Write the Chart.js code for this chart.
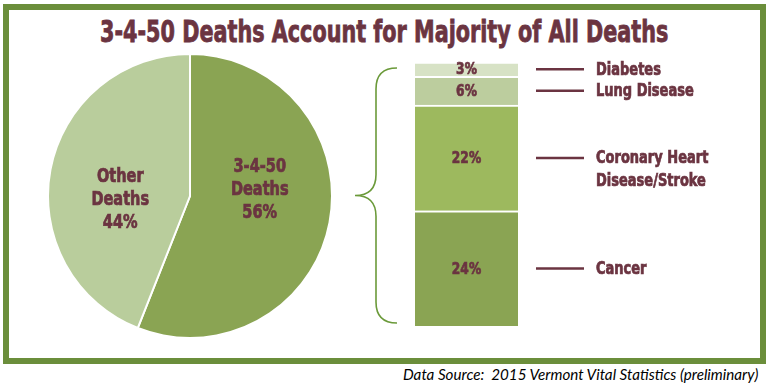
<!DOCTYPE html>
<html>
<head>
<meta charset="utf-8">
<script src="https://cdn.jsdelivr.net/npm/chart.js@4"></script>
<style>
body{margin:0;background:#fff;}
#wrap{position:relative;width:769px;height:385px;overflow:hidden;}
#frame{position:absolute;left:3px;top:4px;width:751px;height:348px;border:6px solid #6b8e3b;}
#title{position:absolute;left:100px;top:14px;white-space:nowrap;font:bold 30px 'Liberation Sans Narrow','DejaVu Sans Condensed',sans-serif;color:#6b3441;-webkit-text-stroke:0.8px #6b3441;transform-origin:0 0;}
#source{position:absolute;right:11px;top:365px;font:italic 15px Lato,'Open Sans',sans-serif;color:#000;white-space:pre;transform-origin:100% 0;}
#pieC{position:absolute;left:47px;top:53px;}
#barC{position:absolute;left:350px;top:55px;}
</style>
</head>
<body>
<div id="wrap">
  <div id="frame"></div>
  <div id="title">3-4-50 Deaths Account for Majority of All Deaths</div>
  <canvas id="pieC" width="286" height="286"></canvas>
  <canvas id="barC" width="415" height="280"></canvas>
  <div id="source">Data Source:  2015 Vermont Vital Statistics (preliminary)</div>
</div>
<script>
// pie: share of all deaths (clockwise from 12 o'clock)
let pieLabels=[['3-4-50','Deaths'],['Other','Deaths']]
let pieValues=[56,44]
let pieColors=['#8aa453','#b9cd9c']

// stacked bar: breakdown of the 3-4-50 deaths (bottom to top)
let causeLabels=[['Cancer'],['Coronary Heart','Disease/Stroke'],['Lung Disease'],['Diabetes']]
let causeValues=[24,22,6,3]
let causeColors=['#8aa453','#9db95e','#bccd9e','#d7e2c5']

let maroon='#6b3441'
let narrow="'Liberation Sans Narrow','DejaVu Sans Condensed',sans-serif"
let squeeze=0.85

// squeeze title and source to the widths they have in the picture
let t=document.getElementById('title')
t.style.transform='scaleX('+(568/t.offsetWidth)+')'
let s=document.getElementById('source')
s.style.transform='scaleX('+(355/s.offsetWidth)+')'

// condensed heavy text: draw with a horizontal squeeze around x
function narrowText(ctx,txt,x,y){
    ctx.save()
    ctx.translate(x,y)
    ctx.scale(squeeze,1)
    ctx.fillText(txt,0,0)
    ctx.strokeStyle=ctx.fillStyle
    ctx.lineWidth=0.7
    ctx.strokeText(txt,0,0)
    ctx.restore()
}

let pieText={
    id:'pieText',
    afterDatasetsDraw(chart){
        let ctx=chart.ctx
        let arcs=chart.getDatasetMeta(0).data
        ctx.save()
        ctx.fillStyle=maroon
        ctx.font='bold 19px '+narrow
        ctx.textAlign='center'
        ctx.textBaseline='middle'
        arcs.forEach(function(a,i){
            let mid=(a.startAngle+a.endAngle)/2
            let x=a.x+Math.cos(mid)*a.outerRadius*0.5
            let lines=pieLabels[i].concat([pieValues[i]+'%'])
            let y0=a.y-(lines.length-1)*23/2+(i==0?-6:4)
            lines.forEach(function(l,j){narrowText(ctx,l,x,y0+j*23)})
        })
        ctx.restore()
    }
}

new Chart(document.getElementById('pieC'),{
    type:'pie',
    data:{
        labels:pieLabels.map(function(l){return l.join(' ')}),
        datasets:[{data:pieValues,backgroundColor:pieColors,borderColor:'#fff',borderWidth:2,hoverOffset:0}]
    },
    options:{
        responsive:false,
        animation:false,
        rotation:0,
        plugins:{legend:{display:false},tooltip:{enabled:false}}
    },
    plugins:[pieText]
})

let barText={
    id:'barText',
    afterDatasetsDraw(chart){
        let ctx=chart.ctx
        let area=chart.chartArea
        ctx.save()
        ctx.textBaseline='middle'
        chart.data.datasets.forEach(function(ds,i){
            let bar=chart.getDatasetMeta(i).data[0]
            let mid=(bar.y+bar.base)/2
            ctx.fillStyle=maroon
            ctx.font='bold 16px '+narrow
            ctx.textAlign='center'
            narrowText(ctx,ds.data[0]+'%',bar.x,mid+1)
            // leader line and category name
            ctx.strokeStyle=maroon
            ctx.lineWidth=2.5
            ctx.beginPath()
            ctx.moveTo(area.right+18,mid)
            ctx.lineTo(area.right+66,mid)
            ctx.stroke()
            ctx.font='bold 17px '+narrow
            ctx.textAlign='left'
            causeLabels[i].forEach(function(l,j){narrowText(ctx,l,area.right+78,mid+1+j*23)})
        })
        // curly brace pointing back at the pie
        let xe=area.left-18, xv=area.left-39, xt=area.left-60
        let top=area.top+6, bot=area.bottom-3, ym=(top+bot)/2, r=21
        ctx.strokeStyle='#6b9a3a'
        ctx.lineWidth=1.6
        ctx.beginPath()
        ctx.moveTo(xe,top)
        ctx.quadraticCurveTo(xv,top,xv,top+r)
        ctx.lineTo(xv,ym-r)
        ctx.quadraticCurveTo(xv,ym,xt,ym)
        ctx.quadraticCurveTo(xv,ym,xv,ym+r)
        ctx.lineTo(xv,bot-r)
        ctx.quadraticCurveTo(xv,bot,xe,bot)
        ctx.stroke()
        ctx.restore()
    }
}

let total=causeValues.reduce(function(a,b){return a+b},0)

new Chart(document.getElementById('barC'),{
    type:'bar',
    data:{
        labels:['3-4-50'],
        datasets:causeValues.map(function(v,i){
            return {label:causeLabels[i].join(' '),data:[v],backgroundColor:causeColors[i],
                borderColor:'#fff',borderWidth:{top:2,left:0,right:0,bottom:0},borderSkipped:false,
                barPercentage:1,categoryPercentage:1}
        })
    },
    options:{
        responsive:false,
        animation:false,
        layout:{padding:{left:65,right:247,top:7,bottom:9}},
        scales:{
            x:{stacked:true,display:false},
            y:{stacked:true,display:false,min:0,max:total}
        },
        plugins:{legend:{display:false},tooltip:{enabled:false}}
    },
    plugins:[barText]
})
</script>
</body>
</html>
